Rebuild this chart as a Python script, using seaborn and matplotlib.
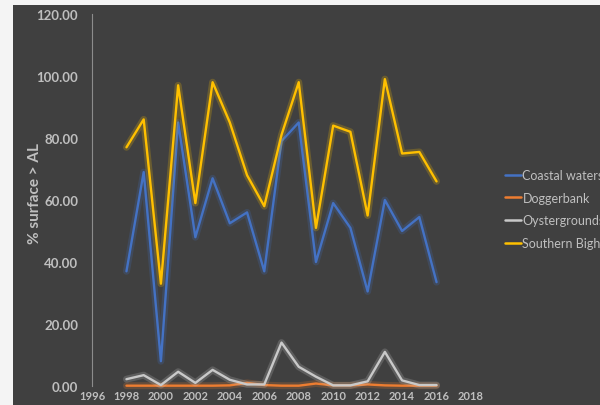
import numpy as np
import pandas as pd
import matplotlib
matplotlib.use("Agg")
import matplotlib.pyplot as plt
import matplotlib.patheffects as pe
from matplotlib.patches import Rectangle
from matplotlib.lines import Line2D
import seaborn as sns

years = list(range(1998, 2017))
coastal = [37, 69, 8, 85, 48, 67, 52.5, 56, 37, 79, 85, 40, 59, 51, 30.5, 60, 50, 54.5, 33.5]
doggerbank = [0.1, 0.1, 0.1, 0.1, 0.1, 0.1, 0.2, 1.0, 0.3, 0.1, 0.1, 0.8, 0.2, 0.2, 0.5, 0.2, 0.1, 0.1, 0.1]
oystergrounds = [2.2, 3.5, 0.3, 4.6, 1.0, 5.2, 2.0, 0.5, 0.5, 14.0, 6.2, 3.0, 0.2, 0.2, 1.5, 11.0, 1.8, 0.3, 0.3]
southern = [77, 86, 33, 97, 59, 98, 85, 68, 58, 81, 98, 51, 84, 82, 55, 99, 75, 75.5, 66]
series_names = ["Coastal waters", "Doggerbank", "Oystergrounds", "Southern Bight"]
x_ticks = list(range(1996, 2019, 2))
y_ticks = [0, 20, 40, 60, 80, 100, 120]

colors = ["#4472C4", "#ED7D31", "#C9C9C9", "#FFC000"]

df = pd.DataFrame({
    "year": years * 4,
    "value": coastal + doggerbank + oystergrounds + southern,
    "series": sum([[n] * len(years) for n in series_names], []),
})

sns.set_theme(style="dark")
plt.rcParams["font.family"] = ["Lato", "DejaVu Sans"]

bg = "#404040"
txt = "#BFBFBF"

fig = plt.figure(figsize=(6.0, 4.06), dpi=100)
fig.patch.set_facecolor("#F4F4F4")
fig.patches.append(Rectangle((13 / 600, 0), 1, 1 - 6 / 406, transform=fig.transFigure,
                             facecolor=bg, edgecolor="none", zorder=-10))

ax = fig.add_axes([92 / 600, 19 / 406, 379 / 600, 372 / 406])
ax.set_zorder(5)
ax.set_facecolor(bg)
ax.patch.set_alpha(0)

sns.lineplot(data=df, x="year", y="value", hue="series", hue_order=series_names,
             palette=colors, linewidth=1.7, ax=ax, legend=False)

for line, c in zip(ax.get_lines(), colors):
    line.set_path_effects([pe.Stroke(linewidth=5, foreground=c, alpha=0.22), pe.Normal()])
    line.set_clip_on(False)

ax.set_xlim(1996, 2018)
ax.set_ylim(0, 120)
ax.set_xticks(x_ticks)
ax.set_xticklabels([str(t) for t in x_ticks], fontweight="bold")
ax.set_yticks(y_ticks)
ax.set_yticklabels([f"{t:.2f}" for t in y_ticks], fontweight="bold")
ax.tick_params(axis="y", colors=txt, labelsize=9.5, length=0, pad=10)
ax.tick_params(axis="x", colors=txt, labelsize=8, length=0, pad=3)
ax.grid(False)
for s in ["top", "right", "bottom"]:
    ax.spines[s].set_visible(False)
ax.spines["left"].set_visible(True)
ax.spines["left"].set_color("#8C8C8C")
ax.spines["left"].set_linewidth(0.8)
ax.set_xlabel("")
ax.set_ylabel("% surface > AL", color=txt, fontsize=11, fontweight="bold")
ax.yaxis.set_label_coords((42 - 92) / 379, 0.52)

handles = [Line2D([0], [0], color=c, linewidth=1.8) for c in colors]
leg = fig.legend(handles, series_names, loc="upper left", bbox_to_anchor=(500 / 600, 1 - 165 / 406),
                 frameon=False, fontsize=9, labelcolor=txt, handlelength=1.3, handletextpad=0.1,
                 labelspacing=0.85, borderaxespad=0)
leg.set_zorder(6)

fig.savefig("out.png", dpi=100, facecolor=fig.get_facecolor())
